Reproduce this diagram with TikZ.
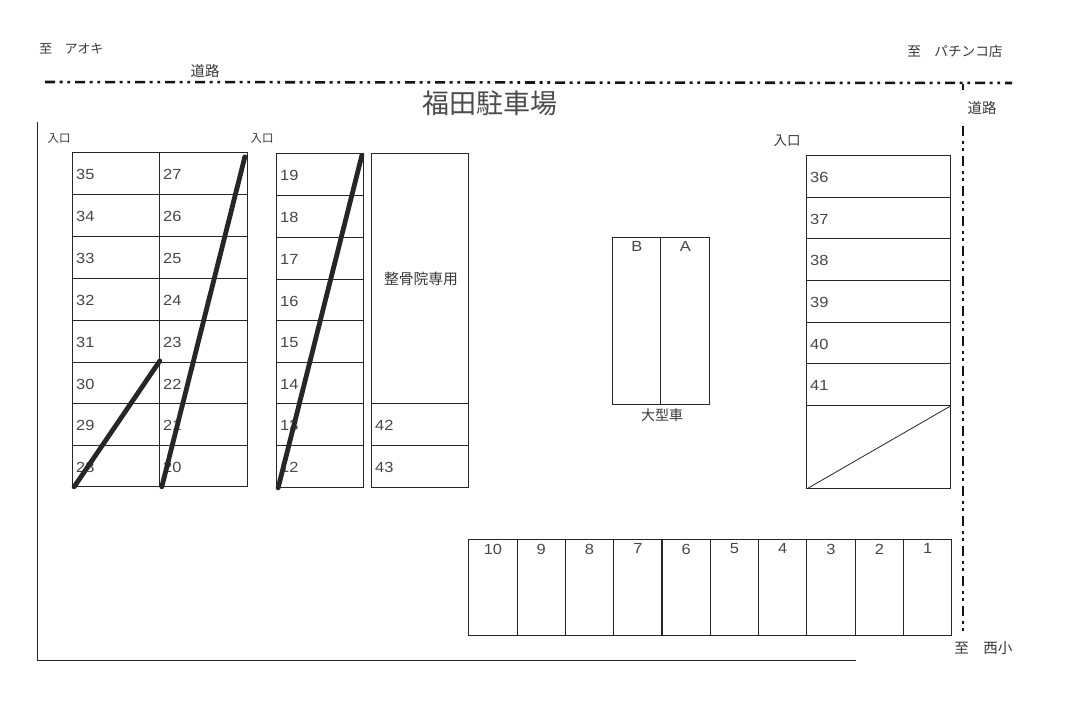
\documentclass[tikz,border=0pt]{standalone}
\usepackage{fontspec}
\setmainfont[FakeStretch=1.12]{Liberation Sans}
\newfontfamily\cjk{Noto Sans CJK JP}
\tikzset{
  cellbox/.style={draw=black!85,line width=0.78pt,inner sep=0pt,outer sep=0pt,rectangle},
  num/.style={font=\fontsize{11pt}{11pt}\selectfont,text=black!72,inner sep=0pt,outer sep=0pt},
  jp/.style={font=\cjk\fontsize{#1pt}{#1pt}\selectfont,text=black!78,inner sep=0pt},
  road/.style={line width=1.9pt,black!92,dash pattern=on 7.5pt off 3.5pt on 2.2pt off 3.5pt on 2.2pt off 3.6pt},
  strike/.style={line width=3.6pt,black!85,line cap=round},
  border/.style={line width=0.7pt,black!85}
}
\newcommand{\cellL}[6]{% name x0 y0 x1 y1 text (number left)
  \node[cellbox,minimum width={(#4-#2)*0.75pt},minimum height={(#5-#3)*0.75pt},
    label={[num,anchor=west,xshift=2.5pt,yshift=-0.5pt]west:#6}] (#1) at ({(#2+#4)/2-0.2},{(#3+#5)/2-0.15}) {};}
\newcommand{\cellT}[6]{% name x0 y0 x1 y1 text (number top)
  \node[cellbox,minimum width={(#4-#2)*0.75pt},minimum height={(#5-#3)*0.75pt},
    label={[num,anchor=north,yshift=-3pt]north:#6}] (#1) at ({(#2+#4)/2-0.2},{(#3+#5)/2-0.15}) {};}
\begin{document}
\begin{tikzpicture}[x=0.75pt,y=-0.75pt]
\useasboundingbox[fill=white] (0,0) rectangle (1066,712);
% left double column
\foreach \a/\b/\t/\u in {153/195/35/27,195/237/34/26,237/279/33/25,279/321/32/24,321/363/31/23,363/404/30/22,404/446/29/21,446/487/28/20}{
  \cellL{c\t}{73}{\a}{160}{\b}{\t}
  \cellL{c\u}{160}{\a}{248}{\b}{\u}
}
% middle column
\foreach \a/\b/\t in {154/196/19,196/238/18,238/280/17,280/321/16,321/363/15,363/404/14,404/446/13,446/488/12}{
  \cellL{c\t}{277}{\a}{364}{\b}{\t}
}
% reserved column
\node[cellbox,minimum width={97*0.75pt},minimum height={250*0.75pt}] (clinic) at (420.3,278.85) {};
\node[jp=11.1] (cliniclabel) at (421,279) {整骨院専用};
\cellL{c42}{372}{404}{469}{446}{42}
\cellL{c43}{372}{446}{469}{488}{43}
% right column
\foreach \a/\b/\t in {156/198/36,198/239/37,239/281/38,281/323/39,323/364/40,364/406/41}{
  \cellL{c\t}{807}{\a}{951}{\b}{\t}
}
\node[cellbox,minimum width={144*0.75pt},minimum height={83*0.75pt}] (blank) at (878.8,447.35) {};
\draw[line width=0.6pt,black!85] (blank.south west) -- (blank.north east);
% large vehicles
\cellT{cB}{613}{238}{661}{405}{B}
\cellT{cA}{661}{238}{710}{405}{A}
\node[jp=10.5] (large) at (662,415) {大型車};
% bottom row
\foreach \i/\t in {0/10,1/9,2/8,3/7,4/6,5/5,6/4,7/3,8/2,9/1}{
  \pgfmathsetmacro{\xa}{469+48.3*\i}
  \pgfmathsetmacro{\xb}{469+48.3*(\i+1)}
  \cellT{c\t}{\xa}{540}{\xb}{636}{\t}
}
% struck-out spaces
\draw[strike] ([shift={(1pt,0pt)}]c28.south west) -- ([yshift=1.5pt]c30.north east);
\draw[strike] ([xshift=1.5pt]c20.south west) -- ([shift={(-2.2pt,-3pt)}]c27.north east);
\draw[strike] ([xshift=1pt]c12.south west) -- ([shift={(-1.4pt,-1pt)}]c19.north east);
% roads and lot edge
\coordinate (rs) at (45,82);
\coordinate (re) at (1012,83);
\coordinate (rc) at (963,84);
\coordinate (rg) at (963,90);
\coordinate (rh) at (963,126);
\coordinate (ri) at (963,634);
\coordinate (ea) at (37,122);
\coordinate (eb) at (37,660);
\coordinate (ec) at (856,660);
\draw[road] (rs) -- (re);
\draw[line width=1.9pt,black!90] (rc) -- (rg);
\draw[road] (rh) -- (ri);
\draw[border] (ea) -- (eb) -- (ec);
% labels
\node[jp=20.25,text=black!70] (title) at (490,103) {福田駐車場};
\node[jp=9.6,anchor=west] (toaoki) at (39,48.5) {至　アオキ};
\node[jp=10.2,anchor=west] (topachi) at (907,51) {至　パチンコ店};
\node[jp=10.8] (road1) at (205,71) {道路};
\node[jp=10.8] (road2) at (982,108) {道路};
\node[jp=8.6] (in1) at (59,138) {入口};
\node[jp=8.6] (in2) at (262,138) {入口};
\node[jp=10.1] (in3) at (787,141) {入口};
\node[jp=10.9,anchor=west] (tonishi) at (954,648) {至　西小};
\end{tikzpicture}
\end{document}
